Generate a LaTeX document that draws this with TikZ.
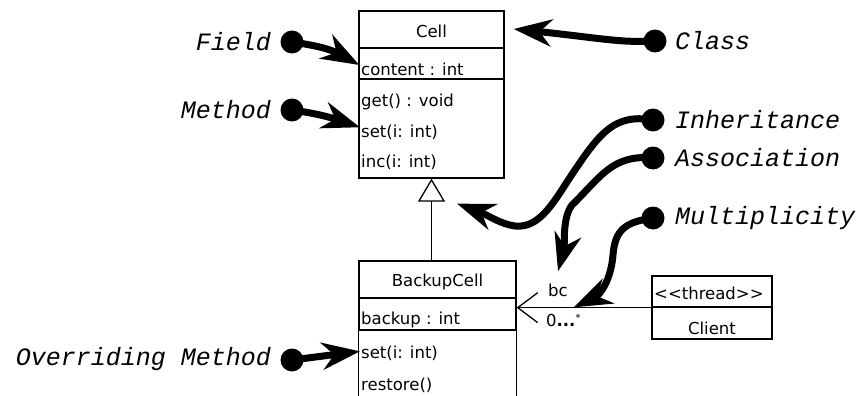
\documentclass[tikz,border=0pt]{standalone}
\usepackage{fontspec}
\setmainfont{DejaVu Sans}
\newfontfamily\notefont{Liberation Mono}
\usetikzlibrary{arrows.meta}

\begin{document}
\begin{tikzpicture}[x=1pt,y=-1pt,
  box/.style={draw, line width=1.3pt, inner sep=0pt},
  umltext/.style={inner sep=0pt, font=\fontsize{16.5}{16.5}\selectfont},
  member/.style={umltext, anchor=base west},
  note/.style={inner sep=0pt, font=\notefont\itshape\fontsize{25}{25}\selectfont},
  pin/.style={circle, fill=black, minimum size=23pt, inner sep=0pt},
  callout/.style={line width=7pt, -{Stealth[length=38pt,width=27pt,inset=12pt]}},
  umlline/.style={line width=1.3pt},
]
\clip (0,0) rectangle (860,396);

% class Cell
\node[box, minimum width=145pt, minimum height=37pt] (cellname) at (431.5,29.5) {};
\node[box, minimum width=145pt, minimum height=31pt] (cellattr) at (431.5,63.5) {};
\node[box, minimum width=145pt, minimum height=99pt] (cellops) at (431.5,128.5) {};
\node[umltext, anchor=base] (celltitle) at (431.5,37.5) {Cell};
\node[member] (content) at (361,76) {content : int};
\node[member] (getop) at (361,106.5) {get() : void};
\node[member] (setop) at (361,137) {set(i: int)};
\node[member] (incop) at (361,167.5) {inc(i: int)};

% class BackupCell (runs past the lower edge)
\node[box, minimum width=157pt, minimum height=37pt] (bcname) at (437.5,279.5) {};
\node[box, minimum width=157pt, minimum height=32pt] (bcattr) at (437.5,314) {};
\draw[umlline] (bcattr.south west) -- ++(0,80);
\draw[umlline] (bcattr.south east) -- ++(0,80);
\node[umltext, anchor=base] (bctitle) at (437.5,286.5) {BackupCell};
\node[member] (backup) at (361,324) {backup : int};
\node[member] (bcset) at (361,358) {set(i: int)};
\node[member] (restore) at (361,390) {restore()};

% class Client
\node[box, minimum width=120pt, minimum height=31pt] (clientstereo) at (712,291.5) {};
\node[box, minimum width=120pt, minimum height=32pt] (clientname) at (712,323) {};
\node[member] (stereo) at (654,299) {<{}<thread>{}>};
\node[umltext, anchor=base] (clienttitle) at (712,334) {Client};

% inheritance and association
\draw[umlline, {Triangle[open, length=23pt, width=27pt, line width=1.3pt]}-]
  (cellops.south) -- (cellops.south |- bcname.north);
\draw[umlline, -{Straight Barb[length=20pt, width=30pt, line width=1.3pt]}]
  (clientstereo.south west) -- (clientstereo.south west -| bcattr.east);
\node[umltext, anchor=base] (role) at (558,296) {bc};
\node[umltext, anchor=base west] (mult) at (546,326) {0\textbf{...}\raisebox{5pt}{\fontsize{10}{10}\selectfont *}};

% annotation pins
\node[pin] (pfield) at (292,42) {};
\node[pin] (pmethod) at (292,110) {};
\node[pin] (poverride) at (292,360) {};
\node[pin] (pclass) at (655,41) {};
\node[pin] (pinherit) at (653,120) {};
\node[pin] (passoc) at (653,158) {};
\node[pin] (pmult) at (653,218) {};

\node[note, anchor=east] (tfield) at (271,42) {Field};
\node[note, anchor=east] (tmethod) at (271,110) {Method};
\node[note, anchor=east] (toverride) at (271,359) {Overriding Method};
\node[note, anchor=west] (tclass) at (675,41) {Class};
\node[note, anchor=west] (tinherit) at (675,120) {Inheritance};
\node[note, anchor=west] (tassoc) at (675,158) {Association};
\node[note, anchor=west] (tmult) at (675,218) {Multiplicity};

% annotation arrows (xshift/yshift act on the page, so positive yshift is upward)
\draw[callout] (pfield.center) .. controls (320,46) and (332,50) .. ([xshift=1pt,yshift=-1.5pt]cellattr.west);
\draw[callout] (pmethod.center) .. controls (320,114) and (332,118) .. ([xshift=-1pt,yshift=4.5pt]setop.west);
\draw[callout] (poverride.center) -- ([xshift=-1pt,yshift=1.5pt]bcset.west);
\draw[callout] (pclass.center) .. controls (620,43) and (600,38) .. ([xshift=9pt,yshift=0.5pt]cellname.east);
\draw[callout] (pinherit.center) .. controls (612,113) and (598,135) .. (565,185)
  .. controls (548,212) and (535,228) .. (515,226)
  .. controls (500,224) and (488,215) .. ([xshift=25.5pt,yshift=-25pt]cellops.south);
\draw[callout] (passoc.center) .. controls (612,154) and (600,178) .. (572,205)
  .. controls (562,218) and (565,245) .. ([yshift=12pt]role.north);
\draw[callout] (pmult.center) .. controls (625,222) and (615,230) .. (613,255)
  .. controls (611,280) and (600,295) .. ([xshift=-7pt,yshift=6pt]mult.north east);
\end{tikzpicture}
\end{document}
